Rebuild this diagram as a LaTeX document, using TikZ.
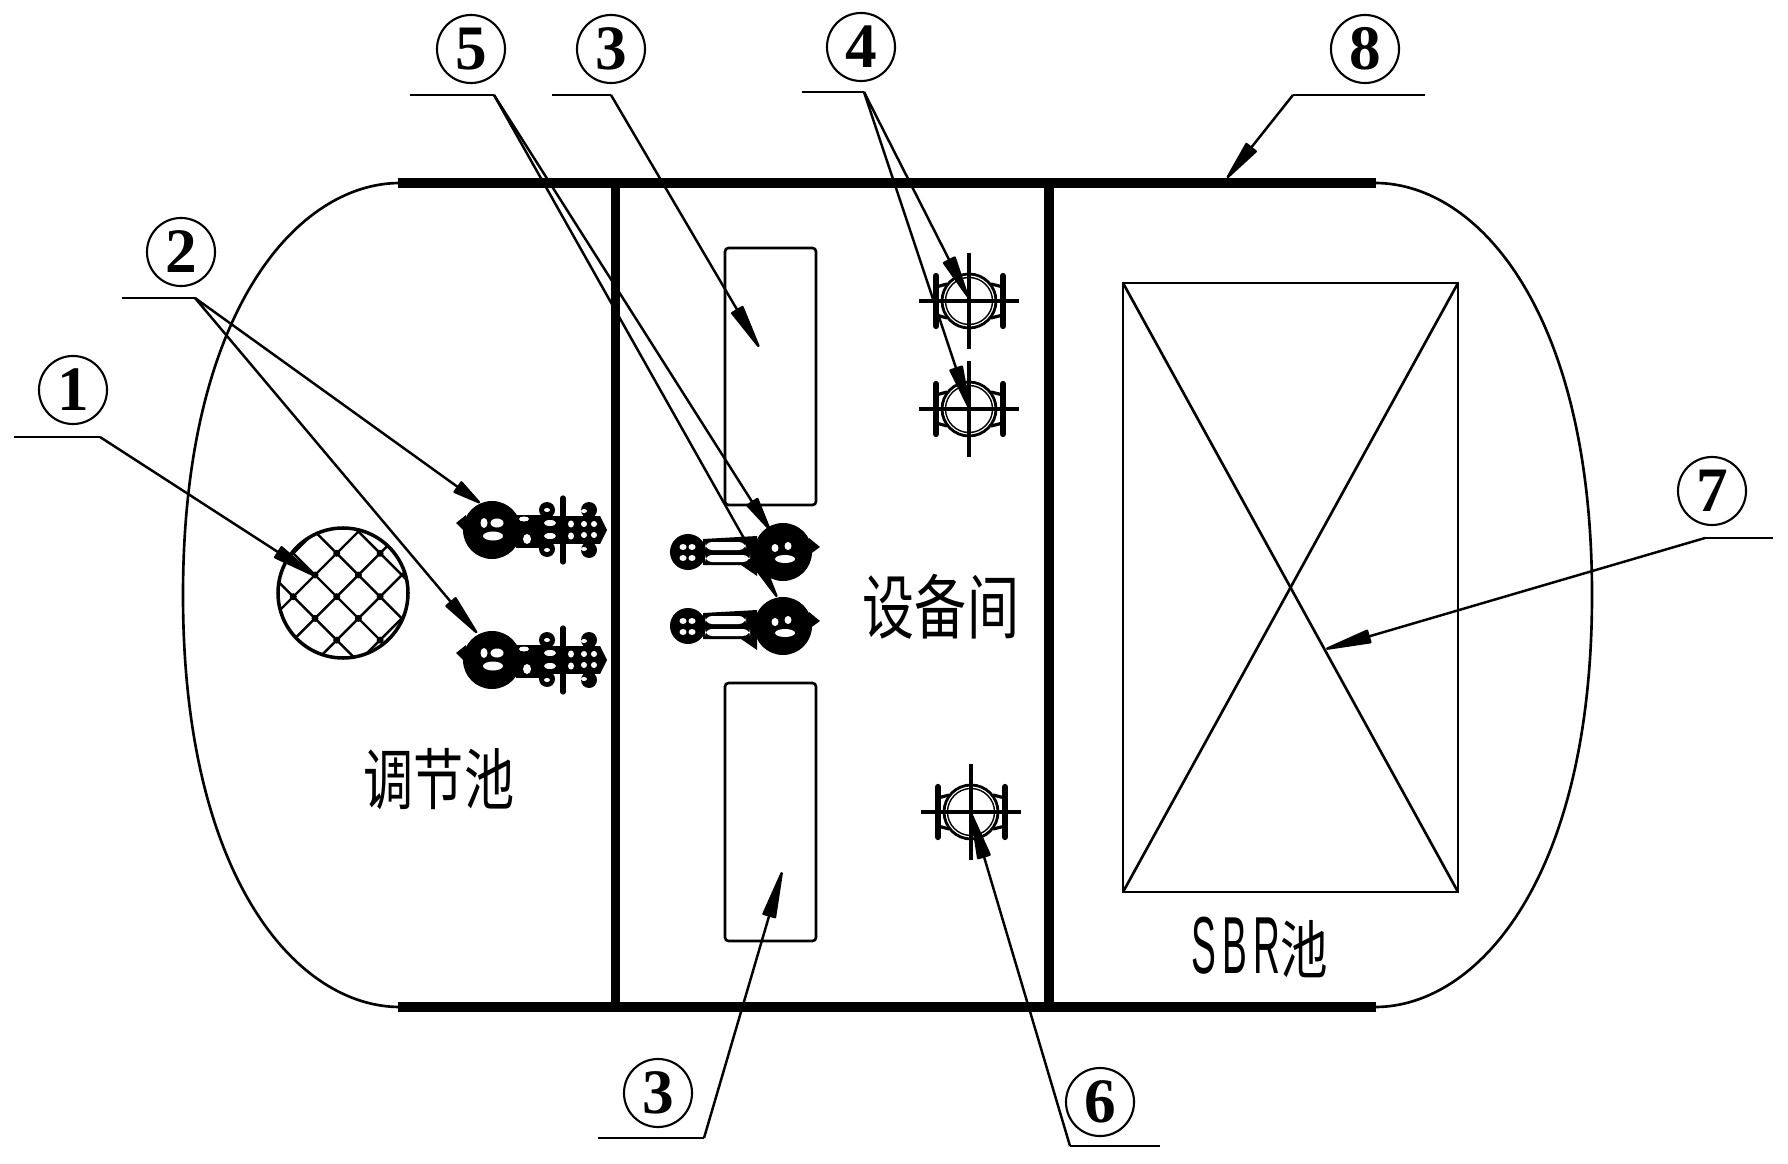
\documentclass[tikz,border=0pt]{standalone}
\usepackage{graphicx}
\usepackage{fontspec}
\setmainfont{Liberation Serif}
\newfontfamily\cjk{Noto Sans CJK SC}
\newfontfamily\latinfont{Liberation Sans}
\usepackage{tikz}
\usetikzlibrary{arrows.meta}

\tikzset{
	wall/.style={line width=2.8pt},
	thinline/.style={line width=0.75pt},
	leader/.style={line width=0.7pt, line join=miter},
	tag/.style={circle, draw, line width=0.6pt, minimum size=0.68cm, inner sep=0pt, font=\fontsize{18}{18}\selectfont\bfseries},
	hole/.style={white},
	pumpleft/.pic={
		\fill (0,0) circle (29);
		\fill (-36,-7) -- (-26,-15) -- (-26,3) -- cycle;
		\fill (24,-15) rectangle (50,18);
		\fill (45,-14) rectangle (108,14);
		\fill (108,-14) -- (115,0) -- (108,14) -- cycle;
		\foreach \xy in {(55,-20),(55,19),(97,-20),(97,20)}
			\fill \xy circle (8);
		\draw[line width=1.5pt, line cap=round] (71,-32) -- (71,32);
		\foreach \xy/\rx/\ry in {(-8,-7)/3.5/5,(5,-7)/6.5/4.5,(1,6)/10/4.5,(32,-11)/5/2.5,(35,9)/4/5,(58,-7)/6/3,(58,6)/6/3,(79,-6)/3/3.5,(79,6)/3/3.5,(92,-6)/3/3,(102,-6)/3/3,(92,5)/3/3,(102,5)/3/3,(92,-19)/3/2,(92,19)/3/2,(55,-20)/3/2,(55,20)/3/2}
			\fill[hole] \xy ellipse (\rx cm/100 and \ry cm/100);
	},
	pumpright/.pic={
		\fill (0,0) circle (29);
		\fill (37,-5) -- (26,-14) -- (26,3) -- cycle;
		\fill (-80,-13) -- (-26,-16) -- (-26,24) -- (-42,13) -- (-80,13) -- cycle;
		\fill (-95,0) circle (18);
		\fill[hole, rounded corners=2] (-78,-10) rectangle (-37,-2);
		\fill[hole, rounded corners=2] (-78,3) rectangle (-33,10);
		\foreach \xy/\rx/\ry in {(-8,-4)/3.5/4,(5,-6)/3.5/4,(2,7)/10/4,(-100,-5)/3.5/3,(-91,-5)/3.5/3,(-100,6)/3.5/3,(-91,6)/3.5/3}
			\fill[hole] \xy ellipse (\rx cm/100 and \ry cm/100);
	},
	valve/.pic={
		\draw[line width=0.8pt] (0,0) circle (27);
		\draw[line width=0.4pt] (0,0) circle (23.5);
		\draw[line width=0.9pt] (-50,0) -- (50,0);
		\draw[line width=0.9pt] (0,-48) -- (0,48);
		\draw[line width=1.8pt, line cap=round] (-33,-25) -- (-33,25);
		\draw[line width=1.8pt, line cap=round] (34,-25) -- (34,25);
		\draw[line width=0.9pt] (-33,-14) -- (-22,-17);
		\draw[line width=0.9pt] (-33,14) -- (-22,17);
		\draw[line width=0.9pt] (34,-14) -- (22,-17);
		\draw[line width=0.9pt] (34,14) -- (22,17);
	}
}

\begin{document}
\begin{tikzpicture}[x=0.01cm, y=-0.01cm]
	\useasboundingbox (0,0) rectangle (1788,1164);

%outer shell
	\draw[thinline] (400,183) .. controls (297,183) and (183,312) .. (183,595)
		.. controls (183,878) and (297,1007) .. (400,1007);
	\draw[thinline] (1375,183) .. controls (1478,183) and (1592,312) .. (1592,595)
		.. controls (1592,878) and (1478,1007) .. (1375,1007);

%walls
	\draw[wall] (398,183) -- (1376,183);
	\draw[wall] (398,1007) -- (1376,1007);
	\draw[wall] (615.5,183) -- (615.5,1007);
	\draw[wall] (1049,183) -- (1049,1007);

%boxes
	\draw[thinline, rounded corners=1] (725,248) rectangle (816,505);
	\draw[thinline, rounded corners=1] (725,683) rectangle (816,941);
	\draw[thinline] (1123,283) rectangle (1458,892);
	\draw[thinline] (1123,283) -- (1458,892);
	\draw[thinline] (1123,892) -- (1458,283);

%grid
	\draw[line width=1pt] (343,593) circle (65);
	\begin{scope}
		\clip (343,593) circle (65);
		\foreach \i in {-5,...,5}{
			\draw[line width=0.7pt] (336.7 + \i*43.4 - 100, 596.7 - 100) -- (336.7 + \i*43.4 + 100, 596.7 + 100);
			\draw[line width=0.7pt] (336.7 + \i*43.4 + 100, 596.7 - 100) -- (336.7 + \i*43.4 - 100, 596.7 + 100);
		}
		\foreach \xy in {(336.7,553.3),(315,575),(358.4,575),(293.3,596.7),(336.7,596.7),(380.1,596.7),(315,618.4),(358.4,618.4),(336.7,640.1),(380.1,640.1),(380.1,553.3)}
			\fill \xy circle (3.5);
	\end{scope}

%pumps and valves
	\foreach \xy/\name in {{(492,530)/pa},{(492,660)/pb}}
		\path \xy pic (\name) {pumpleft};
	\foreach \xy/\name in {{(783,552)/pc},{(783,626)/pd}}
		\path \xy pic (\name) {pumpright};
	\foreach \xy/\name in {{(969,301)/va},{(969,409)/vb},{(971,812)/vc}}
		\path \xy pic (\name) {valve};

%names
	\node[inner sep=0pt] (tank) at (439,779) {\fontsize{19}{19}\selectfont\cjk\scalebox{.75}[1]{调节池}};
	\node[inner sep=0pt] (room) at (941,607) {\fontsize{20}{20}\selectfont\cjk\scalebox{.74}[1]{设备间}};
	\node[inner sep=0pt] (sbr) at (1260,947) {\scalebox{.46}[1]{\fontsize{23}{23}\selectfont\latinfont S\,B\,R}\scalebox{.75}[1]{\fontsize{18}{18}\selectfont\cjk 池}};

%tags
	\foreach \xy/\name/\num in {{(73,390)/tagA/1},{(181,252)/tagB/2},{(611,49)/tagC/3},{(861,47)/tagD/4},{(471,49)/tagE/5},{(1100,1102)/tagF/6},{(1712,491)/tagG/7},{(1365,49)/tagH/8},{(658,1093)/tagI/3}}
		\node[tag] (\name) at \xy {\num};

%leaders
	\foreach \xy/\name in {{(100,437)/ca},{(14,437)/ea},{(195,298)/cb},{(122,298)/eb},{(611,95)/cc},{(552,95)/ec},{(864,92)/cd},{(802,92)/ed},{(494,95)/ce},{(410,95)/ee},{(1070,1146)/cf},{(1160,1146)/ef},{(1705,538)/cg},{(1773,538)/eg},{(1293,95)/ch},{(1425,95)/eh},{(704,1138)/ci},{(598,1138)/ei}}
		\path \xy coordinate (\name);
	\foreach \xy/\name in {{(315,576)/ta},{(480,503)/tb},{(477,633)/tbb},{(759,347)/tc},{(968,297)/td},{(970,410)/tdd},{(770,530)/te},{(777,597)/tee},{(971,813)/tf},{(1326,649)/tg},{(1227,178)/th},{(782,872)/ti}}
		\path \xy coordinate (\name);

	\foreach \a/\b in {ea/ca,eb/cb,ec/cc,ed/cd,ee/ce,ef/cf,eg/cg,eh/ch,ei/ci}
		\draw[leader] (\a) -- (\b);

	\foreach \a/\b/\l in {ca/ta/0.53,cb/tb/0.33,cb/tbb/0.49,cc/tc/0.52,cd/td/0.5,cd/tdd/0.53,ce/te/0.4,ce/tee/0.55,cf/tf/0.55,cg/tg/0.54,ch/th/0.47,ci/ti/0.55}
		\draw[leader, -{Triangle[length=\l cm, width=0.14cm, round]}] (\a) -- (\b);
\end{tikzpicture}
\end{document}
